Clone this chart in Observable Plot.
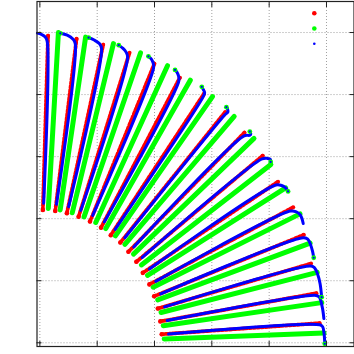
<!DOCTYPE html>
<html><head><meta charset="utf-8">
<script src="https://cdn.jsdelivr.net/npm/d3@7"></script>
<script src="https://cdn.jsdelivr.net/npm/@observablehq/plot@0.6"></script>
<style>
html,body{margin:0;padding:0;background:#fff;}
#wrap{position:relative;width:354px;height:354px;}
#legend{position:absolute;left:0;top:0;pointer-events:none;}
</style>
</head><body><div id="wrap"><div id="chart"></div><svg id="legend" width="354" height="60"></svg></div>
<script>
// Spokes, polar form (radius, angle in degrees) about the origin
const spokeIds = [1,2,3,4,5,6,7,8,9,10,11,12,13,14,15,16];

// red series: inner point and outer tip of each spoke
const redInnerAngle  = [88.6, 82.8, 77.3, 71.6, 65.9, 60.1, 54.5, 49.0, 43.5, 37.8, 32.1, 26.2, 20.6, 15.0, 9.3, 3.7];
const redInnerRadius = [2.14, 2.14, 2.14, 2.14, 2.14, 2.14, 2.13, 2.14, 2.13, 2.13, 2.12, 2.13, 2.13, 2.13, 2.13, 2.13];
const redTipAngle    = [88.35, 82.55, 77.05, 71.5, 66.05, 60.25, 54.5, 49.0, 43.5, 37.8, 32.0, 26.3, 20.7, 15.1, 9.4, 3.7];
const redTipRadius   = [4.95, 4.94, 4.93, 4.93, 4.92, 4.92, 4.93, 4.93, 4.92, 4.92, 4.90, 4.93, 4.92, 4.90, 4.89, 4.89];

// green series: straight spokes
const greenInnerAngle  = [86.1, 80.6, 74.9, 69.2, 63.3, 58.0, 52.6, 46.9, 41.2, 35.3, 30.0, 24.4, 18.6, 13.0, 7.3, 1.6];
const greenInnerRadius = [2.17, 2.17, 2.17, 2.17, 2.17, 2.17, 2.17, 2.17, 2.17, 2.17, 2.17, 2.17, 2.17, 2.17, 2.17, 2.17];
const greenTipAngle    = [86.3, 80.8, 75.1, 69.4, 63.5, 58.2, 52.8, 47.1, 41.4, 35.5, 30.2, 24.6, 18.8, 13.2, 7.5, 1.8];
const greenTipRadius   = [5.01, 4.99, 4.99, 4.99, 4.99, 4.98, 4.98, 4.98, 4.98, 4.95, 4.96, 4.99, 4.98, 4.97, 4.96, 4.96];

// blue series: each spoke as [radius, angle] vertices, inner end to hooked outer end
const bluePaths = [
  [[2.25,88.3],[4.86,88.5],[4.93,88.9],[4.97,89.7],[4.99,90.5]],
  [[2.25,82.6],[4.86,82.7],[4.93,83.3],[4.98,84.5],[5.00,85.9]],
  [[2.25,77.1],[4.86,77.2],[4.93,77.8],[4.97,79.0],[4.99,80.2]],
  [[2.25,71.5],[4.85,71.6],[4.92,72.2],[4.96,73.0],[4.99,74.0]],
  [[2.25,65.8],[4.86,65.9],[4.93,66.4],[4.97,67.0],[4.99,67.7]],
  [[2.25,60.0],[4.86,60.1],[4.93,60.6],[4.97,61.2],[4.99,61.8]],
  [[2.25,54.3],[4.88,54.3],[4.95,54.5],[4.98,55.1],[5.00,55.6]],
  [[2.25,48.8],[4.88,48.7],[4.96,48.6],[4.99,49.0],[5.00,49.4]],
  [[2.25,43.3],[4.88,43.1],[4.96,42.4],[4.99,42.5],[5.00,42.9]],
  [[2.25,37.6],[4.88,37.4],[4.96,36.8],[4.99,36.3],[4.97,35.9]],
  [[2.25,31.9],[4.84,31.7],[4.92,31.0],[4.96,30.2],[4.97,29.4]],
  [[2.25,26.1],[4.86,25.9],[4.95,25.2],[4.99,24.3],[4.98,22.7]],
  [[2.25,20.5],[4.87,20.3],[4.96,19.7],[4.98,18.4],[4.98,17.2],[4.97,16.0]],
  [[2.25,14.9],[4.88,14.7],[4.94,14.2],[4.97,12.9],[4.98,11.0],[4.97,8.5]],
  [[2.25,9.2],[4.88,9.0],[4.93,8.6],[4.96,6.6],[4.97,4.5]],
  [[2.25,3.6],[4.89,3.4],[4.94,3.0],[4.96,1.7],[4.97,-0.2]]
];
// spokes whose blue end carries a green point
const tipDotSpokes = [2,3,4,5,6,7,8,9,10,11,13,14,16];

const xTicks = [0,1,2,3,4,5];
const yTicks = [0,1,2,3,4,5];
// legend keys (no labels in the original)
const legendColors = ["#ff0000", "#00ff00", "#0000ff"];

// polar -> cartesian
const toXY = (r, deg) => ({x: r * Math.cos(deg * Math.PI / 180), y: r * Math.sin(deg * Math.PI / 180)});

const redRows = [], redInner = [], redTips = [], greenRows = [], blueRows = [], tipDots = [];
spokeIds.forEach((s, i) => {
  const a = {spoke: s, ...toXY(redInnerRadius[i], redInnerAngle[i])};
  const b = {spoke: s, ...toXY(redTipRadius[i], redTipAngle[i])};
  redRows.push(a, b); redInner.push(a); redTips.push(b);
  greenRows.push({spoke: s, ...toXY(greenInnerRadius[i], greenInnerAngle[i])},
                 {spoke: s, ...toXY(greenTipRadius[i], greenTipAngle[i])});
  bluePaths[i].forEach(([r, d]) => blueRows.push({spoke: s, ...toXY(r, d)}));
  if (tipDotSpokes.includes(s)) {
    const [r, d] = bluePaths[i][bluePaths[i].length - 1];
    tipDots.push(toXY(r, d));
  }
});

const chart = Plot.plot({
  width: 354, height: 354,
  marginLeft: 36.5, marginRight: 0.5, marginTop: 1, marginBottom: 8,
  x: {domain: [-0.05, 5.48], axis: null},
  y: {domain: [-0.06, 5.5], axis: null},
  marks: [
    Plot.gridX(xTicks, {stroke: "#a0a0a0", strokeOpacity: 1, strokeDasharray: "1,2"}),
    Plot.gridY(yTicks, {stroke: "#a0a0a0", strokeOpacity: 1, strokeDasharray: "1,2"}),
    Plot.line(redRows, {x: "x", y: "y", z: "spoke", stroke: "#ff0000", strokeWidth: 3.8, strokeDasharray: "2.4,1.6"}),
    Plot.dot(redInner, {x: "x", y: "y", r: 2.3, fill: "#ff0000"}),
    Plot.dot(redTips, {x: "x", y: "y", r: 2.0, fill: "#ff0000"}),
    Plot.line(greenRows, {x: "x", y: "y", z: "spoke", stroke: "#00ff00", strokeWidth: 5, strokeLinecap: "round"}),
    Plot.line(blueRows, {x: "x", y: "y", z: "spoke", stroke: "#0000ff", strokeWidth: 3, curve: "catmull-rom", strokeLinejoin: "round"}),
    Plot.dot(tipDots, {x: "x", y: "y", r: 2.4, fill: "#00ff00"}),
    Plot.dot(tipDots, {x: "x", y: "y", r: 1.1, fill: "#0000ff"}),
    Plot.frame({stroke: "#222", strokeWidth: 1.2}),
    Plot.axisX(xTicks, {anchor: "bottom", tickSize: -5, tickFormat: () => "", label: null, stroke: "#222"}),
    Plot.axisX(xTicks, {anchor: "top", tickSize: -5, tickFormat: () => "", label: null, stroke: "#222"}),
    Plot.axisY(yTicks, {anchor: "left", tickSize: -5, tickFormat: () => "", label: null, stroke: "#222"}),
    Plot.axisY(yTicks, {anchor: "right", tickSize: -5, tickFormat: () => "", label: null, stroke: "#222"})
  ]
});
document.getElementById("chart").appendChild(chart);

// legend keys at the top right, inside the frame
const leg = d3.select("#legend");
legendColors.forEach((c, i) => {
  leg.append("circle").attr("cx", 314.3).attr("cy", 13.3 + 15.2 * i)
     .attr("r", i === 2 ? 1.3 : 2.3).attr("fill", c);
});
</script>
</body></html>
